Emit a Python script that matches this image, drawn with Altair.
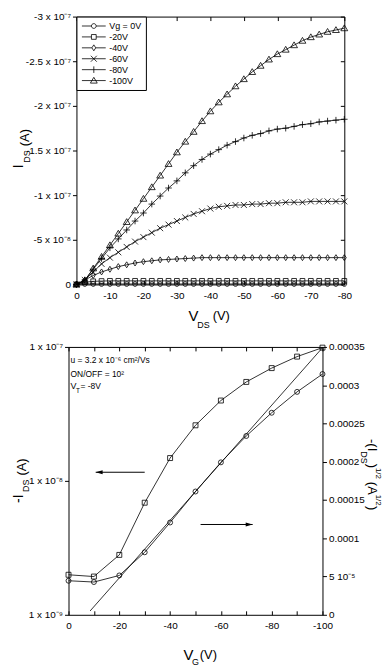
import json
import altair as alt
import pandas as pd

FONT = "Liberation Sans"

# ---------------- top panel: output characteristics ----------------
VDS = [0, -2.5, -5, -7.5, -10, -12.5, -15, -17.5, -20, -22.5, -25, -27.5, -30,
       -32.5, -35, -37.5, -40, -42.5, -45, -47.5, -50, -52.5, -55, -57.5, -60,
       -62.5, -65, -67.5, -70, -72.5, -75, -77.5, -80]
SERIES = ["Vg = 0V", "-20V", "-40V", "-60V", "-80V", "-100V"]
UNIT = 1e-7  # currents below are in units of 1e-7 A
I_0V = [0, -0.005, -0.005, -0.005, -0.005, -0.005, -0.005, -0.005, -0.005, -0.005,
        -0.005, -0.005, -0.005, -0.005, -0.005, -0.005, -0.005, -0.005, -0.005,
        -0.005, -0.005, -0.005, -0.005, -0.005, -0.005, -0.005, -0.005, -0.005,
        -0.005, -0.005, -0.005, -0.005, -0.005]
I_20V = [0, -0.025, -0.035, -0.038, -0.04, -0.04, -0.04, -0.04, -0.04, -0.04,
         -0.04, -0.04, -0.04, -0.04, -0.04, -0.04, -0.04, -0.04, -0.04, -0.04,
         -0.04, -0.04, -0.04, -0.04, -0.04, -0.04, -0.04, -0.04, -0.04, -0.04,
         -0.04, -0.04, -0.04]
I_40V = [0, -0.05, -0.10, -0.14, -0.17, -0.20, -0.22, -0.24, -0.255, -0.265,
         -0.275, -0.28, -0.285, -0.29, -0.295, -0.30, -0.30, -0.30, -0.30, -0.30,
         -0.30, -0.30, -0.30, -0.30, -0.30, -0.30, -0.30, -0.30, -0.30, -0.30,
         -0.30, -0.30, -0.30]
I_60V = [0, -0.05, -0.14, -0.23, -0.30, -0.36, -0.42, -0.48, -0.53, -0.58,
         -0.63, -0.67, -0.71, -0.75, -0.79, -0.82, -0.85, -0.87, -0.88, -0.89,
         -0.89, -0.90, -0.90, -0.91, -0.91, -0.92, -0.92, -0.92, -0.93, -0.93,
         -0.93, -0.93, -0.93]
I_80V = [0, -0.05, -0.17, -0.29, -0.41, -0.51, -0.61, -0.71, -0.80, -0.90,
         -0.99, -1.08, -1.16, -1.25, -1.33, -1.40, -1.46, -1.51, -1.56, -1.60,
         -1.64, -1.67, -1.69, -1.72, -1.74, -1.75, -1.77, -1.79, -1.80, -1.82,
         -1.83, -1.84, -1.85]
I_100V = [0, -0.04, -0.18, -0.31, -0.44, -0.57, -0.70, -0.83, -0.96, -1.09,
          -1.22, -1.35, -1.48, -1.60, -1.71, -1.83, -1.94, -2.04, -2.13, -2.22,
          -2.30, -2.38, -2.45, -2.52, -2.58, -2.63, -2.68, -2.73, -2.77, -2.80,
          -2.83, -2.85, -2.87]
CURRENTS = [I_0V, I_20V, I_40V, I_60V, I_80V, I_100V]

TOP_X_TICKS = [0, -10, -20, -30, -40, -50, -60, -70, -80]
TOP_Y_TICKS = [0, -5e-8, -1e-7, -1.5e-7, -2e-7, -2.5e-7, -3e-7]
TOP_Y_LABELS = ["0", "-5 x 10⁻⁸", "-1 x 10⁻⁷", "-1.5 x 10⁻⁷", "-2 x 10⁻⁷",
                "-2.5 x 10⁻⁷", "-3 x 10⁻⁷"]

# marker shapes (unit-square SVG paths)
DATA_SHAPES = [
    "M0.8,0A0.8,0.8,0,1,1,-0.8,0A0.8,0.8,0,1,1,0.8,0Z",
    "M-0.8,-0.8L0.8,-0.8L0.8,0.8L-0.8,0.8Z",
    "M0,-1L0.65,0L0,1L-0.65,0Z",
    "M-1,-1L1,1M-1,1L1,-1",
    "M-1.1,0L1.1,0M0,-1.1L0,1.1",
    "M0,-1.1L1.15,0.85L-1.15,0.85Z",
]
LEGEND_SHAPES = [
    "M-2.4,0L-0.48,0M0.48,0L2.4,0M0.48,0A0.48,0.48,0,1,1,-0.48,0A0.48,0.48,0,1,1,0.48,0Z",
    "M-2.4,0L-0.48,0M0.48,0L2.4,0M-0.48,-0.48L0.48,-0.48L0.48,0.48L-0.48,0.48Z",
    "M-2.4,0L-0.39,0M0.39,0L2.4,0M0,-0.6L0.39,0L0,0.6L-0.39,0Z",
    "M-2.4,0L2.4,0M-0.6,-0.6L0.6,0.6M-0.6,0.6L0.6,-0.6",
    "M-2.4,0L2.4,0M0,-0.66L0,0.66",
    "M-2.4,0L2.4,0M0,-0.66L0.69,0.51L-0.69,0.51Z",
]

# ---------------- bottom panel: transfer characteristics ----------------
VG = [0, -10, -20, -30, -40, -50, -60, -70, -80, -90, -100]
IDS_LOG = [1.99e-9, 1.93e-9, 2.80e-9, 6.87e-9, 1.48e-8, 2.60e-8, 3.98e-8,
           5.48e-8, 6.95e-8, 8.47e-8, 9.88e-8]
SQRT_IDS = [4.45e-5, 4.28e-5, 5.14e-5, 8.17e-5, 1.206e-4, 1.611e-4, 1.992e-4,
            2.337e-4, 2.64e-4, 2.913e-4, 3.146e-4]
FIT_VG = [-8.5, -100]
FIT_SQRT = [5e-6, 3.49e-4]
LOG_TICKS = [1e-9, 1e-8, 1e-7]
LOG_LABELS = ["1 x 10⁻⁹", "1 x 10⁻⁸", "1 x 10⁻⁷"]
LIN_TICKS = [0, 5e-5, 1e-4, 1.5e-4, 2e-4, 2.5e-4, 3e-4, 3.5e-4]
LIN_LABELS = ["0", "5 10⁻⁵", "0.0001", "0.00015", "0.0002", "0.00025", "0.0003", "0.00035"]
ARROW_L_X = [-30, -10.7]
ARROW_L_Y = 1.16e-8
ARROW_R_X = [-52, -72.5]
ARROW_R_Y = 1.18e-4
LEFT_HEAD = "M0,0L2,-0.55L2,0.55Z"
RIGHT_HEAD = "M0,0L-2,-0.55L-2,0.55Z"

# text pieces (titles with sub/superscripts, annotation)
TOP_XTITLE = {"txt": ["V", "DS", "(V)"], "px": [118, 128, 146], "py": [302, 311, 302], "fs": [15, 9, 13]}
TOP_YTITLE = {"txt": ["I", "DS", "(A)"], "px": [-58, -50, -52], "py": [151, 141, 122], "fs": [14, 9, 13]}
BOT_XTITLE = {"txt": ["V", "G", "(V)"], "px": [121, 128, 141], "py": [311, 318, 311], "fs": [15, 9, 13]}
BOT_YTITLE = {"txt": ["-I", "DS", "(A)"], "px": [-50, -43, -47], "py": [153, 140, 121], "fs": [14, 9, 13]}
BOT_RTITLE = {"txt": ["-(I", "DS", ")", "1/2", "(A", "1/2", ")"],
              "px": [306, 298, 306, 312, 306, 312, 306],
              "py": [99, 111.5, 120, 127.5, 142.5, 154.5, 162.5],
              "fs": [13, 9, 13, 8, 13, 8, 13]}
ANNOT = {"txt": ["u = 3.2 x 10⁻⁶ cm²/Vs", "ON/OFF = 10²", "V", "T", "= -8V"],
         "px": [2, 2, 2, 7.5, 12], "py": [13, 27, 39, 44, 39], "fs": [8.5, 8.5, 9, 6.5, 8.5]}


def text_layer(pieces, angle=0, align="center"):
    return alt.Chart(pd.DataFrame(pieces)).mark_text(
        font=FONT, color="black", angle=angle, align=align, baseline="middle"
    ).encode(
        x=alt.X("px:Q", scale=None),
        y=alt.Y("py:Q", scale=None),
        text="txt:N",
        size=alt.Size("fs:Q", scale=None),
    )


def label_expr(labels, index_expr):
    return json.dumps(labels, ensure_ascii=False) + "[" + index_expr + "]"


def spacer():
    return alt.Chart(pd.DataFrame({"a": [0]})).mark_point(
        opacity=0, size=0, strokeWidth=0
    ).encode(
        x=alt.value(0), y=alt.value(0)
    ).properties(width=1, height=1, view=alt.ViewBackground(stroke="transparent"))


def mirror_axis(orient, values):
    return alt.Axis(orient=orient, values=values, labels=False, title=None,
                    offset=-4, tickSize=4, minExtent=0, maxExtent=4)


# ---------------- build top chart ----------------
top_df = pd.DataFrame([
    {"vds": v, "ids": c * UNIT, "series": s}
    for s, cur in zip(SERIES, CURRENTS) for v, c in zip(VDS, cur)
])
xs1 = alt.Scale(domain=[0, -80], nice=False, zero=False)
ys1 = alt.Scale(domain=[0, -3e-7], nice=False, zero=False)

top_lines = alt.Chart(top_df).mark_line(color="black", strokeWidth=0.8).encode(
    x=alt.X("vds:Q", scale=xs1, axis=alt.Axis(
        orient="bottom", values=TOP_X_TICKS, labelExpr="'' + datum.value", title=None,
        offset=-4, tickSize=4, labelPadding=6)),
    y=alt.Y("ids:Q", scale=ys1, axis=alt.Axis(
        orient="left", values=TOP_Y_TICKS, title=None, tickSize=4, labelPadding=2,
        labelExpr=label_expr(TOP_Y_LABELS, "round(datum.value / -5e-8)"))),
    detail="series:N",
)
top_points = alt.Chart(top_df).mark_point(
    filled=False, color="black", strokeWidth=0.8, size=36, opacity=1
).encode(
    x=alt.X("vds:Q", scale=xs1, axis=mirror_axis("top", TOP_X_TICKS)),
    y=alt.Y("ids:Q", scale=ys1, axis=mirror_axis("right", TOP_Y_TICKS)),
    shape=alt.Shape("series:N", scale=alt.Scale(domain=SERIES, range=DATA_SHAPES), legend=None),
)
top_legend = alt.Chart(top_df).mark_point(
    filled=False, color="black", strokeWidth=0.8, opacity=0
).encode(
    x=alt.X("vds:Q", scale=xs1, axis=None),
    y=alt.Y("ids:Q", scale=ys1, axis=None),
    shape=alt.Shape("series:N", scale=alt.Scale(domain=SERIES, range=LEGEND_SHAPES),
                    legend=alt.Legend(
                        title=None, orient="top-left", offset=0, padding=4,
                        fillColor="white", strokeColor="black", cornerRadius=0,
                        labelFont=FONT, labelFontSize=9, labelColor="black",
                        symbolSize=100, symbolStrokeWidth=0.8, symbolStrokeColor="black",
                        symbolFillColor="transparent", symbolOpacity=1,
                        symbolOffset=8, labelOffset=10, rowPadding=0)),
)
top = alt.layer(
    top_lines, top_points, top_legend,
    text_layer(TOP_XTITLE), text_layer(TOP_YTITLE, angle=270),
).resolve_scale(shape="independent").properties(width=270, height=270)

# ---------------- build bottom chart ----------------
bot_df = pd.DataFrame({"vg": VG, "ids": IDS_LOG, "sq": SQRT_IDS})
fit_df = pd.DataFrame({"vg": FIT_VG, "sq": FIT_SQRT})
arr_l = pd.DataFrame({"x1": [ARROW_L_X[0]], "x2": [ARROW_L_X[1]], "y": [ARROW_L_Y]})
arr_r = pd.DataFrame({"x1": [ARROW_R_X[0]], "x2": [ARROW_R_X[1]], "y": [ARROW_R_Y]})

xs2 = alt.Scale(domain=[0, -100], nice=False, zero=False)


def yl():
    return alt.Scale(type="log", domain=[1e-9, 1e-7], nice=False)


def yr():
    return alt.Scale(domain=[0, 3.5e-4], nice=False, zero=False)


sq_line = alt.Chart(bot_df).mark_line(color="black", strokeWidth=0.8).encode(
    x=alt.X("vg:Q", scale=xs2, axis=alt.Axis(
        orient="bottom", values=VG, title=None, offset=-4, tickSize=4, labelPadding=6,
        labelExpr="datum.value % 20 == 0 ? '' + datum.value : ''")),
    y=alt.Y("ids:Q", scale=yl(), axis=alt.Axis(
        orient="left", values=LOG_TICKS, title=None, tickSize=4, labelPadding=2,
        labelExpr=label_expr(LOG_LABELS, "round(log(datum.value) / LN10) + 9"))),
)
sq_pts = alt.Chart(bot_df).mark_point(
    shape="square", filled=False, color="black", size=25, strokeWidth=0.8, opacity=1
).encode(x=alt.X("vg:Q", scale=xs2, axis=None), y=alt.Y("ids:Q", scale=yl(), axis=None))
arr_l_rule = alt.Chart(arr_l).mark_rule(color="black", strokeWidth=1).encode(
    x=alt.X("x1:Q", scale=xs2, axis=None), x2="x2:Q", y=alt.Y("y:Q", scale=yl(), axis=None))
arr_l_head = alt.Chart(arr_l).mark_point(
    shape=LEFT_HEAD, filled=True, color="black", size=49, opacity=1
).encode(x=alt.X("x2:Q", scale=xs2, axis=None), y=alt.Y("y:Q", scale=yl(), axis=None))

ci_line = alt.Chart(bot_df).mark_line(color="black", strokeWidth=0.8).encode(
    x=alt.X("vg:Q", scale=xs2, axis=mirror_axis("top", VG)),
    y=alt.Y("sq:Q", scale=yr(), axis=alt.Axis(
        orient="right", values=LIN_TICKS, title=None, tickSize=4, labelPadding=2,
        labelExpr=label_expr(LIN_LABELS, "round(datum.value / 0.00005)"))),
)
ci_pts = alt.Chart(bot_df).mark_point(
    shape="circle", filled=False, color="black", size=25, strokeWidth=0.8, opacity=1
).encode(x=alt.X("vg:Q", scale=xs2, axis=None), y=alt.Y("sq:Q", scale=yr(), axis=None))
fit_line = alt.Chart(fit_df).mark_line(color="black", strokeWidth=0.8).encode(
    x=alt.X("vg:Q", scale=xs2, axis=None), y=alt.Y("sq:Q", scale=yr(), axis=None))
arr_r_rule = alt.Chart(arr_r).mark_rule(color="black", strokeWidth=1).encode(
    x=alt.X("x1:Q", scale=xs2, axis=None), x2="x2:Q", y=alt.Y("y:Q", scale=yr(), axis=None))
arr_r_head = alt.Chart(arr_r).mark_point(
    shape=RIGHT_HEAD, filled=True, color="black", size=49, opacity=1
).encode(x=alt.X("x2:Q", scale=xs2, axis=None), y=alt.Y("y:Q", scale=yr(), axis=None))

bottom = alt.layer(
    sq_line, sq_pts, arr_l_rule, arr_l_head,
    ci_line, ci_pts, fit_line, arr_r_rule, arr_r_head,
    text_layer(BOT_XTITLE), text_layer(BOT_YTITLE, angle=270),
    text_layer(BOT_RTITLE, angle=90), text_layer(ANNOT, align="left"),
).resolve_scale(y="independent").properties(width=256, height=270)

chart = alt.vconcat(
    alt.hconcat(spacer(), top, spacing=0),
    alt.hconcat(spacer(), bottom, spacing=0),
    spacing=10,
).properties(
    padding={"left": 0, "top": 0, "right": 0, "bottom": 0}
).configure_view(
    stroke="black", strokeWidth=1
).configure_axis(
    labelFont=FONT, labelFontSize=10, labelColor="black", tickColor="black",
    tickWidth=1, domain=False, grid=False, labelFlush=False, labelOverlap=False,
    minExtent=0
)

chart.save("out.html", embed_options={"renderer": "svg", "actions": False})
